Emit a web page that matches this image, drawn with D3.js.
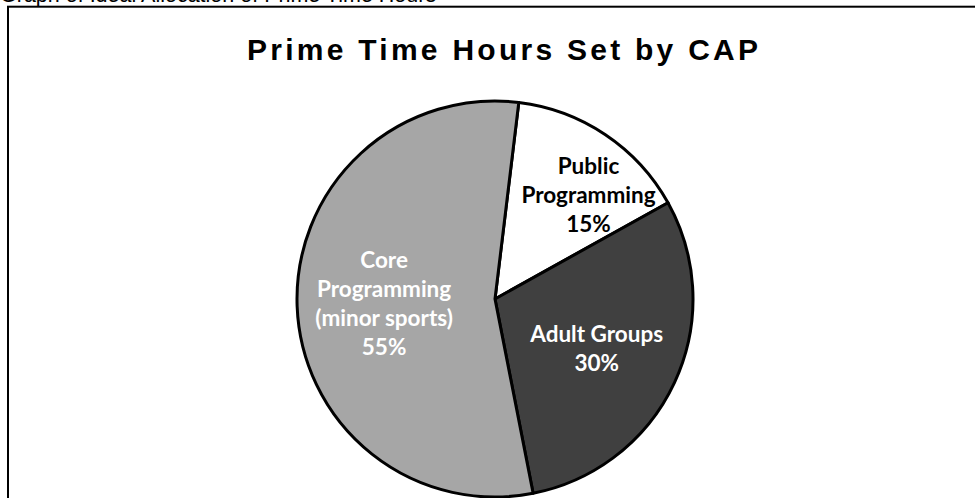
<!DOCTYPE html>
<html>
<head>
<meta charset="utf-8">
<script src="https://cdn.jsdelivr.net/npm/d3@7"></script>
<style>
  html, body { margin: 0; padding: 0; background: #fff; }
  svg { display: block; }
</style>
</head>
<body>
<script>
// ---- data ----
const categories = ["Public Programming", "Adult Groups", "Core Programming (minor sports)"];
const labelLines = [["Public", "Programming"], ["Adult Groups"], ["Core", "Programming", "(minor sports)"]];
const values = [15, 30, 55];
const sliceColors = ["#ffffff", "#404040", "#a6a6a6"];
const labelColors = ["#000000", "#ffffff", "#ffffff"];
const chartTitle = "Prime Time Hours Set by CAP";
const pageCaption = "Graph of Ideal Allocation of Prime Time Hours";

const W = 975, H = 498;
const svg = d3.select("body").append("svg").attr("width", W).attr("height", H);

// caption (cut off at top, as in the reference)
svg.append("text")
  .attr("x", 0).attr("y", 2)
  .attr("font-family", "Liberation Sans, Arial, sans-serif")
  .attr("font-size", 21.5)
  .attr("fill", "#000")
  .text(pageCaption);

// chart border
svg.append("rect")
  .attr("x", 8).attr("y", 6.7)
  .attr("width", W + 20).attr("height", H + 20)
  .attr("fill", "none").attr("stroke", "#000").attr("stroke-width", 2);

// title
svg.append("text")
  .attr("x", 247).attr("y", 60)
  .attr("font-family", "Liberation Sans, Arial, sans-serif")
  .attr("font-weight", "bold")
  .attr("font-size", 30)
  .attr("textLength", 511)
  .attr("lengthAdjust", "spacing")
  .attr("fill", "#000")
  .text(chartTitle);

// pie
const cx = 495, cy = 299, r = 198;
const start = 6.9 * Math.PI / 180;
const pie = d3.pie().sort(null).startAngle(start).endAngle(start + 2 * Math.PI);
const arcs = pie(values);
const arc = d3.arc().innerRadius(0).outerRadius(r);

const g = svg.append("g").attr("transform", `translate(${cx},${cy})`);
g.selectAll("path.slice")
  .data(arcs)
  .join("path")
  .attr("class", "slice")
  .attr("d", arc)
  .attr("fill", (d, i) => sliceColors[i])
  .attr("stroke", "#000")
  .attr("stroke-width", 3)
  .attr("stroke-linejoin", "round");

// label placement (best-fit style): angle shift and radial distance per slice
const placement = [{ shift: 8, dist: 140 }, { shift: 1, dist: 113 }, { shift: 0, dist: 111 }];
const lineH = 29;
arcs.forEach((d, i) => {
  const mid = (d.startAngle + d.endAngle) / 2 + placement[i].shift * Math.PI / 180;
  const lx = Math.sin(mid) * placement[i].dist;
  const ly = -Math.cos(mid) * placement[i].dist;
  const lines = labelLines[i].concat([d3.format(".0%")(d.value / d3.sum(values))]);
  const t = g.append("text")
    .attr("text-anchor", "middle")
    .attr("font-family", "Lato, 'Open Sans', sans-serif")
    .attr("font-weight", "bold")
    .attr("font-size", 22.5)
    .attr("fill", labelColors[i]);
  const n = lines.length;
  lines.forEach((ln, k) => {
    t.append("tspan")
      .attr("x", lx)
      .attr("y", ly + (k - (n - 1) / 2) * lineH + 8)
      .text(ln);
  });
});
</script>
</body>
</html>
